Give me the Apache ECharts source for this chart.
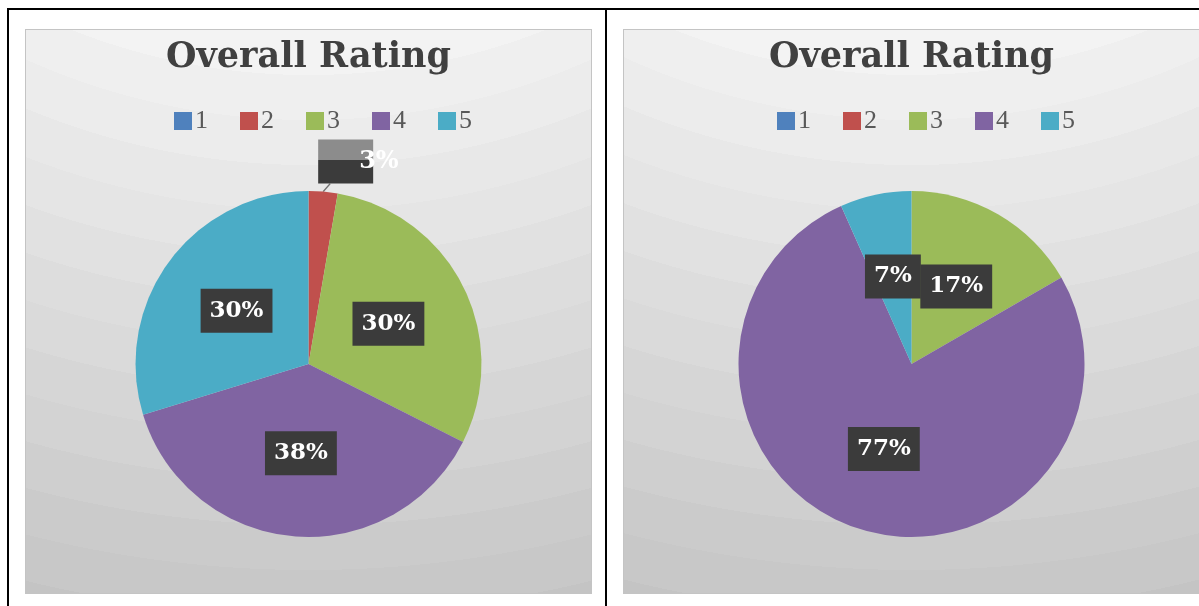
<!DOCTYPE html>
<html>
<head>
<meta charset="utf-8">
<title>Overall Rating</title>
<script src="https://cdn.jsdelivr.net/npm/echarts@6/dist/echarts.min.js"></script>
<style>
  html, body { margin: 0; padding: 0; background: #fff; overflow: hidden; }
  body { width: 1199px; height: 606px; position: relative; }
  .frame { position: absolute; left: 7px; top: 8px; width: 1300px; height: 700px;
           border-left: 2px solid #000; border-top: 2px solid #000; }
  .divider { position: absolute; left: 605px; top: 8px; width: 2px; height: 700px; background: #000; }
  .chart { position: absolute; top: 29px; height: 565px; box-sizing: border-box;
           border: 1px solid #c4c4c4; background: #ddd; }
  #left  { left: 25px;  width: 567px; }
  #right { left: 623px; width: 577px; }
</style>
</head>
<body>
<div class="frame"></div>
<div class="divider"></div>
<div id="left" class="chart"></div>
<div id="right" class="chart"></div>

<script>
// ratings 1..5, response counts
const ratings = ['1', '2', '3', '4', '5'];
const leftCounts = [0, 1, 11, 14, 11];
const rightCounts = [0, 0, 5, 23, 2];
const colors = ['#4f81bd', '#c0504d', '#9bbb59', '#8064a2', '#4bacc6'];

const serif = '"DejaVu Serif", "Liberation Serif", serif';

// Excel-style banded radial fill, centred well above the plot
(function () {
  const stops = [];
  for (let k = 0; k < 16; k++) {
    const c = Math.round(0xf3 - 3.6 * k).toString(16);
    const col = '#' + c + c + c;
    stops.push(col + ' ' + (600 + 45 * k) + 'px', col + ' ' + (600 + 45 * (k + 1)) + 'px');
  }
  const bg = 'radial-gradient(circle at 50% -600px, ' + stops.join(', ') + ')';
  document.querySelectorAll('.chart').forEach(function (el) { el.style.background = bg; });
})();

// the little 3% label that Excel pushed outside the pie
const calloutLabel = {
  position: 'outside',
  fontFamily: serif,
  fontSize: 24,
  fontWeight: 'bold',
  color: '#fff',
  width: 14,
  height: 26,
  lineHeight: 26,
  padding: [9, 0, 9, 41],
  align: 'left',
  overflow: 'none',
  backgroundColor: {
    type: 'linear', x: 0, y: 0, x2: 0, y2: 1,
    colorStops: [
      { offset: 0, color: '#8c8c8c' },
      { offset: 0.47, color: '#8c8c8c' },
      { offset: 0.47, color: '#3b3b3b' },
      { offset: 1, color: '#3b3b3b' }
    ]
  }
};

function buildData(counts, outsideIdx) {
  return counts.map(function (v, i) {
    const item = { name: ratings[i], value: v };
    if (v === 0) {
      item.label = { show: false };
      item.labelLine = { show: false };
    } else if (i === outsideIdx) {
      item.label = calloutLabel;
      item.labelLine = { show: true, length: 6, length2: 0, lineStyle: { color: '#6f6f6f', width: 1.5 } };
    }
    return item;
  });
}

function makeOption(counts, outsideIdx, legendLeft) {
  return {
    color: colors,
    animation: false,
    title: {
      text: 'Overall Rating',
      left: 'center',
      top: 5,
      textStyle: { fontFamily: serif, fontSize: 35, fontWeight: 'bold', color: '#404040' }
    },
    legend: {
      top: 73,
      left: legendLeft,
      icon: 'rect',
      itemWidth: 18,
      itemHeight: 18,
      itemGap: 32,
      selectedMode: false,
      textStyle: { fontFamily: '"Liberation Serif", serif', fontSize: 26, color: '#595959', padding: [0, 0, 0, -2] },
      data: ratings
    },
    series: [{
      type: 'pie',
      center: ['50%', 334],
      radius: 173,
      startAngle: 90,
      clockwise: true,
      avoidLabelOverlap: false,
      itemStyle: { borderWidth: 0 },
      emphasis: { disabled: true },
      label: {
        show: true,
        position: 'inside',
        formatter: function (p) { return Math.round(p.percent) + '%'; },
        fontFamily: serif,
        fontSize: 23,
        fontWeight: 'bold',
        color: '#fff',
        backgroundColor: '#3b3b3b',
        padding: [9, 9],
        lineHeight: 26
      },
      labelLine: { show: false },
      labelLayout: function (params) {
        if (params.dataIndex !== outsideIdx || !params.labelLinePoints) return {};
        const p0 = params.labelLinePoints[0];
        return {
          x: p0[0] - 5,
          y: p0[1] - 52,
          align: 'left',
          verticalAlign: 'top',
          labelLinePoints: [p0, [p0[0] + 7, p0[1] - 8], [p0[0] + 7, p0[1] - 8]]
        };
      },
      data: buildData(counts, outsideIdx)
    }]
  };
}

const leftChart = echarts.init(document.getElementById('left'));
leftChart.setOption(makeOption(leftCounts, 1, 143));
const rightChart = echarts.init(document.getElementById('right'));
rightChart.setOption(makeOption(rightCounts, -1, 148));
</script>
</body>
</html>
